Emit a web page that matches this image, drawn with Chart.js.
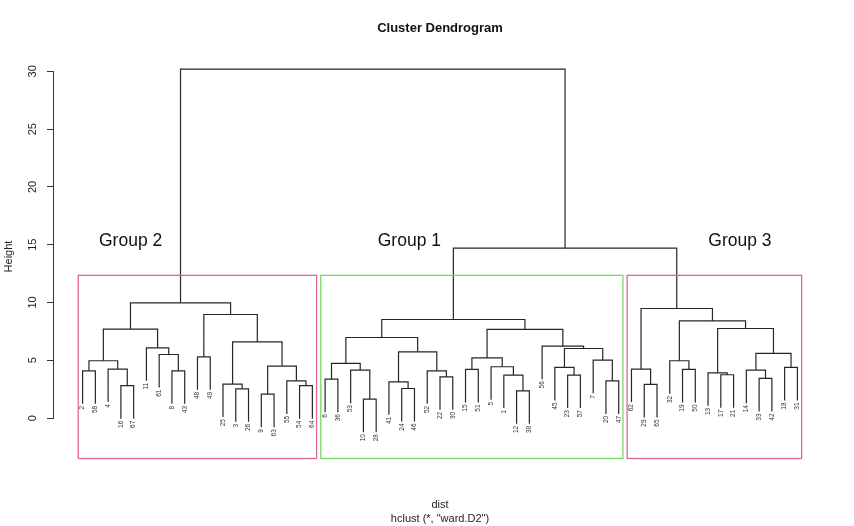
<!DOCTYPE html>
<html><head><meta charset="utf-8">
<script src="https://cdn.jsdelivr.net/npm/chart.js@4.4.1/dist/chart.umd.min.js"></script>
<style>html,body{margin:0;padding:0;background:#fff;} canvas{display:block;}</style>
</head><body>
<canvas id="c" width="854" height="526"></canvas>
<script>
// ---- data ----
const leafLabels = ['2','58','4','16','67','11','61','8','43','48','49','25','3','26','9','63','55','54','64',
  '6','36','53','10','28','41','24','46','52','22','30','15','51','5','1','12','38','56','45','23','57','7','20','47',
  '62','29','65','32','19','50','13','17','21','14','33','42','18','31'];
// R-style merge table: negative = leaf position in order, positive = earlier merge number
const mergeA = [-1,-4,-3,1,-8,-7,-6,4,-10,-13,-12,-15,-18,-17,12,11,9,8,
  -20,-23,-22,19,-26,-25,-29,-28,24,22,-31,-35,-34,-33,29,-39,-38,-42,-41,35,-37,33,28,
  -45,-44,-48,-47,-51,-50,-54,-53,-56,49,47,45,43,41,18];
const mergeB = [-2,-5,2,3,-9,5,6,7,-11,-14,10,-16,-19,13,14,15,16,17,
  -21,-24,20,21,-27,23,-30,25,26,27,-32,-36,30,31,32,-40,34,-43,36,37,38,39,40,
  -46,42,-49,44,-52,46,-55,48,-57,50,51,52,53,54,55];
const mergeHeight = [4.09,2.80,4.24,4.96,4.09,5.50,6.08,7.69,5.30,2.53,2.94,2.07,2.80,3.22,4.50,6.60,8.96,9.97,
  3.37,1.64,4.15,4.73,2.56,3.14,3.57,4.09,5.73,6.97,4.21,2.36,3.72,4.44,5.21,3.72,4.38,3.22,5.01,6.02,6.22,7.67,8.53,
  2.91,4.24,4.21,4.96,3.75,3.92,3.43,4.15,4.38,5.59,7.75,8.41,9.48,14.70,30.20];
const yTickValues = [0,5,10,15,20,25,30];
const groupNames = ['Group 2','Group 1','Group 3'];
const groupFirstLeaf = [1,20,44];
const groupLastLeaf = [19,43,57];
const cutHeight = 12.35;

// ---- layout / style ----
const layoutCfg = {
  groupLabelX: [4.76, 26.6, 52.5], groupLabelY: 15.3,
  groupColors: ['#E0698A','#7DD66B','#E0698A'],
  xMin: -1.24, xMax: 59.24, yMin: -3.54, yMax: 31.5
};

const n = leafLabels.length;
const hMin = Math.min(...mergeHeight), hMax = Math.max(...mergeHeight);
const hang = 0.1 * (hMax - hMin);
const nodeX = [];
function childX(c){ return c < 0 ? -c : nodeX[c-1]; }
const datasets = [];
const leafBottom = new Array(n+1);
for (let i = 0; i < mergeHeight.length; i++) {
  const a = mergeA[i], b = mergeB[i], h = mergeHeight[i];
  const xa = childX(a), xb = childX(b);
  nodeX[i] = (xa + xb) / 2;
  const ya = a < 0 ? h - hang : mergeHeight[a-1];
  const yb = b < 0 ? h - hang : mergeHeight[b-1];
  if (a < 0) leafBottom[-a] = ya;
  if (b < 0) leafBottom[-b] = yb;
  datasets.push({
    data: [{x:xa,y:ya},{x:xa,y:h},{x:xb,y:h},{x:xb,y:yb}],
    showLine: true, borderColor: '#262626', borderWidth: 1.2, pointRadius: 0, fill: false, tension: 0
  });
}

const FONT = '"Liberation Sans", Arial, sans-serif';
const decor = {
  id: 'decor',
  afterDatasetsDraw(chart) {
    const ctx = chart.ctx, xs = chart.scales.x, ys = chart.scales.y, ca = chart.chartArea;
    ctx.save();
    // y axis line between 0 and 30
    ctx.strokeStyle = '#333'; ctx.lineWidth = 1;
    ctx.beginPath();
    ctx.moveTo(ca.left - 0.5, ys.getPixelForValue(yTickValues[0]));
    ctx.lineTo(ca.left - 0.5, ys.getPixelForValue(yTickValues[yTickValues.length-1]));
    ctx.stroke();
    // leaf labels
    ctx.fillStyle = '#333';
    ctx.font = '6.5px ' + FONT;
    ctx.textAlign = 'right'; ctx.textBaseline = 'middle';
    for (let p = 1; p <= n; p++) {
      const px = xs.getPixelForValue(p), py = ys.getPixelForValue(leafBottom[p]) + 2;
      ctx.save(); ctx.translate(px, py); ctx.rotate(-Math.PI/2);
      ctx.fillText(leafLabels[p-1], 0, 0); ctx.restore();
    }
    // group rectangles
    ctx.lineWidth = 1.3;
    for (let g = 0; g < groupNames.length; g++) {
      const x1 = xs.getPixelForValue(groupFirstLeaf[g] - 0.34);
      const x2 = xs.getPixelForValue(groupLastLeaf[g] + 0.33);
      const y1 = ys.getPixelForValue(cutHeight);
      const y2 = ys.getPixelForValue(ys.min) - 0.5;
      ctx.strokeStyle = layoutCfg.groupColors[g];
      ctx.strokeRect(x1, y1, x2 - x1, y2 - y1);
    }
    // group labels
    ctx.fillStyle = '#111';
    ctx.font = '17.5px ' + FONT;
    ctx.textAlign = 'center'; ctx.textBaseline = 'middle';
    for (let g = 0; g < groupNames.length; g++) {
      ctx.fillText(groupNames[g], xs.getPixelForValue(layoutCfg.groupLabelX[g]), ys.getPixelForValue(layoutCfg.groupLabelY));
    }
    // titles
    const cx = (ca.left + ca.right) / 2;
    ctx.fillStyle = '#111';
    ctx.font = 'bold 13px ' + FONT;
    ctx.fillText('Cluster Dendrogram', cx, 28);
    ctx.font = '11px ' + FONT;
    ctx.fillStyle = '#222';
    ctx.fillText('dist', cx, 505);
    ctx.fillText('hclust (*, "ward.D2")', cx, 519);
    ctx.save(); ctx.translate(9, (ca.top + ca.bottom) / 2); ctx.rotate(-Math.PI/2);
    ctx.fillText('Height', 0, 0); ctx.restore();
    ctx.restore();
  }
};

new Chart(document.getElementById('c'), {
  type: 'scatter',
  data: { datasets },
  plugins: [decor],
  options: {
    responsive: false, animation: false, devicePixelRatio: 1,
    layout: { padding: { left: 0, right: 28, top: 54, bottom: 67 } },
    plugins: { legend: { display: false }, tooltip: { enabled: false }, title: { display: false } },
    scales: {
      x: { type: 'linear', display: false, min: layoutCfg.xMin, max: layoutCfg.xMax },
      y: {
        type: 'linear', min: layoutCfg.yMin, max: layoutCfg.yMax,
        afterBuildTicks: s => { s.ticks = yTickValues.map(v => ({ value: v })); },
        afterFit: s => { s.width = 54; },
        border: { display: false },
        grid: { drawOnChartArea: false, drawTicks: true, tickLength: 7, color: '#333' },
        ticks: { minRotation: 90, maxRotation: 90, crossAlign: 'center', padding: 8,
          font: { size: 11, family: FONT }, color: '#222' }
      }
    }
  }
});
</script>
</body></html>
